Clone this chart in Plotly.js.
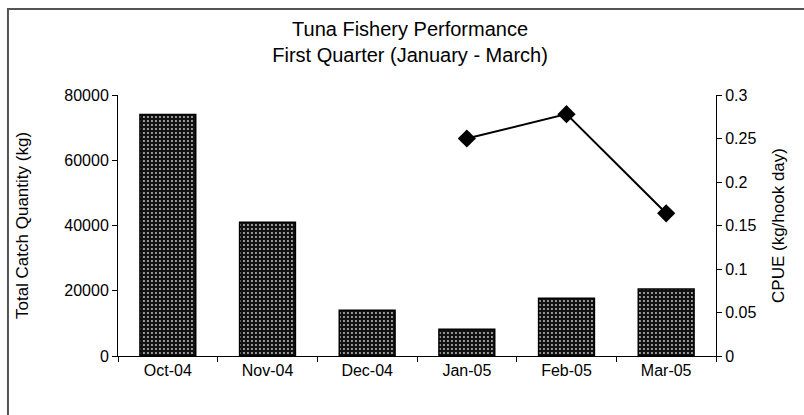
<!DOCTYPE html>
<html>
<head>
<meta charset="utf-8">
<script src="https://cdn.plot.ly/plotly-3.0.1.min.js"></script>
<style>
html,body{margin:0;padding:0;background:#fff;}
#chart{width:804px;height:415px;}
</style>
</head>
<body>
<div id="chart"></div>
<script>
var months = ["Oct-04", "Nov-04", "Dec-04", "Jan-05", "Feb-05", "Mar-05"];
var catch_kg = [74000, 41000, 14000, 8200, 17700, 20500];
var cpueMonths = ["Jan-05", "Feb-05", "Mar-05"];
var cpue = [0.25, 0.278, 0.164];
var leftTicks = [0, 20000, 40000, 60000, 80000];
var rightTicks = [0, 0.05, 0.1, 0.15, 0.2, 0.25, 0.3];
var rightTickText = ["0", "0.05", "0.1", "0.15", "0.2", "0.25", "0.3"];

var font = "Liberation Sans, Arial, sans-serif";

var bars = {
  type: "bar",
  x: months,
  y: catch_kg,
  marker: {
    color: "#000",
    line: {color: "#000", width: 1.5},
    pattern: {shape: ".", bgcolor: "#111", fgcolor: "#c8c8c8", size: 4, solidity: 0.18}
  },
  hoverinfo: "x+y",
  showlegend: false
};
var line = {
  type: "scatter",
  mode: "lines+markers",
  x: cpueMonths,
  y: cpue,
  yaxis: "y2",
  line: {color: "#000", width: 2},
  marker: {symbol: "diamond", size: 14, color: "#000"},
  showlegend: false
};

var layout = {
  width: 804,
  height: 415,
  margin: {l: 118, r: 88, t: 95, b: 59},
  paper_bgcolor: "#fff",
  plot_bgcolor: "#fff",
  font: {family: font, color: "#000", size: 16},
  title: {
    text: "Tuna Fishery Performance<br>First Quarter (January - March)",
    font: {family: font, size: 20, color: "#000"},
    x: 0.51, xanchor: "center",
    yref: "container",
    y: 0.914, yanchor: "top"
  },
  bargap: 0.44,
  xaxis: {
    type: "category",
    categoryorder: "array",
    categoryarray: months,
    showline: true, linecolor: "#000", linewidth: 1,
    ticks: "outside", ticklen: 5, tickcolor: "#000",
    tickson: "boundaries",
    showgrid: false, zeroline: false,
    tickfont: {size: 16}
  },
  yaxis: {
    range: [0, 80000],
    tickvals: leftTicks,
    ticktext: leftTicks.map(String),
    showline: true, linecolor: "#000", linewidth: 1,
    ticks: "outside", ticklen: 5, tickcolor: "#000",
    showgrid: false, zeroline: false,
    tickfont: {size: 16},
    title: {text: "Total Catch Quantity (kg)", font: {size: 17}, standoff: 31}
  },
  yaxis2: {
    overlaying: "y",
    side: "right",
    range: [0, 0.3],
    tickvals: rightTicks,
    ticktext: rightTickText,
    showline: true, linecolor: "#000", linewidth: 1,
    ticks: "outside", ticklen: 5, tickcolor: "#000",
    showgrid: false, zeroline: false,
    tickfont: {size: 16},
    title: {text: "CPUE (kg/hook day)", font: {size: 17}, standoff: 16}
  },
  shapes: [{
    type: "rect", xref: "paper", yref: "paper",
    x0: -0.184, x1: 1.2, y0: -0.35, y1: 1.3295,
    line: {color: "#555", width: 2}, fillcolor: "rgba(0,0,0,0)", layer: "below"
  }]
};

Plotly.newPlot("chart", [bars, line], layout, {displayModeBar: false, staticPlot: true});
</script>
</body>
</html>
